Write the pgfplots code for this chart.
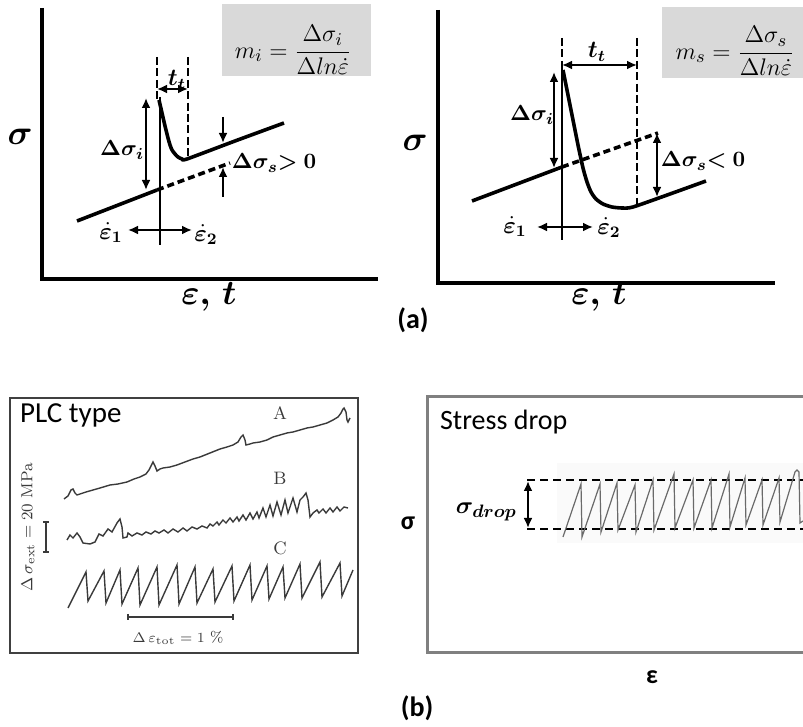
\documentclass[border=0pt]{standalone}
\usepackage{pgfplots}
\pgfplotsset{compat=1.18}
\usepackage{amsmath}
\usepackage{fontspec}
\usepackage{bm}
\usetikzlibrary{arrows.meta}
\newfontfamily\calibri{Carlito}
\definecolor{boxgray}{HTML}{D9D9D9}
\definecolor{scan}{HTML}{3A3A3A}
\definecolor{scan2}{HTML}{6A6A6A}
\pgfplotsset{panel/.style={x=0.5pt,y=0.5pt,y dir=reverse,hide axis,clip=false,anchor=south west}}
\tikzset{
  arr/.style={{Latex[length=5pt,width=4.5pt]}-{Latex[length=5pt,width=4.5pt]}, line width=1.1pt},
  sarr/.style={-{Latex[length=5pt,width=4.5pt]}, line width=1.1pt},
  thick line/.style={line width=1.8pt},
  dline/.style={line width=1.8pt, dash pattern=on 3.5pt off 2pt},
  dvert/.style={line width=1pt, dash pattern=on 4pt off 1.7pt},
  big/.style={font=\fontsize{17}{19}\selectfont},
  mid/.style={font=\fontsize{11}{13}\selectfont},
  sm/.style={font=\fontsize{12}{14}\selectfont},
}
\begin{document}
\begin{tikzpicture}
\useasboundingbox (0,0) rectangle (401.5pt,363.5pt);
% ---------------- top-left ----------------
\begin{axis}[panel, xmin=0, xmax=400, ymin=0, ymax=360, at={(0pt,183.5pt)}]
\fill[boxgray] (222,4) rectangle (371,76);
\node[font=\fontsize{12.5}{14}\selectfont] at (293,50) {$m_i=\dfrac{\Delta\sigma_i}{\Delta ln\dot{\varepsilon}}$};
\addplot[black, line width=2pt, line join=miter] coordinates {(42,8) (42,279) (378,279)};
\addplot[thick line] coordinates {(77,221) (157,190)};
\addplot[dline] coordinates {(157,190) (230,163)};
\addplot[thick line, smooth, tension=0.4] coordinates {(159,100) (162,113) (165,126) (168,138) (170,145) (172,150) (175,154) (178,157) (182,159) (187,159) (235,141) (284,123)};
\addplot[line width=1pt] coordinates {(160,97) (160,245)};
\addplot[dvert] coordinates {(157,57) (157,100)};
\addplot[dvert] coordinates {(188,57) (188,159)};
\addplot[arr] coordinates {(157,89) (188,89)};
\addplot[arr] coordinates {(146,98) (146,190)};
\addplot[sarr] coordinates {(223,117) (223,143)};
\addplot[sarr] coordinates {(223,197) (223,167)};
\addplot[arr] coordinates {(128,230) (192,230)};
\node[sm] at (177,80) {$\bm{t_t}$};
\node[mid] at (122,150) {$\bm{\Delta\sigma_i}$};
\node[mid] at (274,163) {$\bm{\Delta\sigma_s{>}\;0}$};
\node[sm] at (111,233) {$\bm{\dot{\varepsilon}_1}$};
\node[sm] at (206,235) {$\bm{\dot{\varepsilon}_2}$};
\node[big] at (20,137) {$\bm{\sigma}$};
\node[big] at (209,297) {$\bm{\varepsilon,}\,\bm{t}$};
\end{axis}
% ---------------- top-right ----------------
\begin{axis}[panel, xmin=400, xmax=803, ymin=0, ymax=360, at={(200pt,183.5pt)}]
\fill[boxgray] (662,7) rectangle (803,78);
\node[font=\fontsize{12.5}{14}\selectfont] at (735,51) {$m_s=\dfrac{\Delta\sigma_s}{\Delta ln\dot{\varepsilon}}$};
\addplot[black, line width=2pt, line join=miter] coordinates {(438,10) (438,283) (775,283)};
\addplot[thick line] coordinates {(472,201) (562,167)};
\addplot[dline] coordinates {(562,167) (658,133)};
\addplot[thick line, smooth, tension=0.4] coordinates {(563,70) (568,95) (573,120) (578,145) (583,168) (587,182) (591,192) (596,199) (603,204) (612,207) (622,208) (633,207) (670,194) (706,181)};
\addplot[line width=1pt] coordinates {(562,67) (562,240)};
\addplot[dvert] coordinates {(562,38) (562,70)};
\addplot[dvert] coordinates {(637,38) (637,207)};
\addplot[arr] coordinates {(562,65) (637,65)};
\addplot[arr] coordinates {(554,72) (554,168)};
\addplot[arr] coordinates {(657,133) (657,197)};
\addplot[arr] coordinates {(537,227) (593,227)};
\node[sm] at (597,52) {$\bm{t_t}$};
\node[mid] at (532,115) {$\bm{\Delta\sigma_i}$};
\node[mid] at (703,161) {$\bm{\Delta\sigma_s{<}\;0}$};
\node[sm] at (515,227) {$\bm{\dot{\varepsilon}_1}$};
\node[sm] at (609,228) {$\bm{\dot{\varepsilon}_2}$};
\node[big] at (415,143) {$\bm{\sigma}$};
\node[big] at (599,297) {$\bm{\varepsilon,}\,\bm{t}$};
\node[font=\calibri\bfseries\fontsize{14}{16}\selectfont] at (413,320) {(a)};
\end{axis}
% ---------------- bottom-left ----------------
\begin{axis}[panel, xmin=0, xmax=400, ymin=360, ymax=727, at={(0pt,0pt)}]
\draw[black!75, line width=0.9pt] (10,398) rectangle (358,653);
\node[anchor=west, font=\calibri\fontsize{14.5}{16}\selectfont] at (13,415) {PLC type};
% curve A
\addplot[scan, line width=0.7pt] coordinates {(64,499) (68,496) (71,490) (73,489) (75,493) (77,495) (80,494) (86,492) (93,490) (100,488) (110,485) (118,484) (127,482) (134,479) (140,477) (146,474) (149,470) (152,464) (153,462) (155,466) (157,471) (160,469) (163,468) (170,467) (177,465) (185,462) (193,459) (200,457) (210,453) (220,449) (227,447) (233,445) (238,442) (241,437) (243,435) (245,440) (246,445) (250,444) (253,443) (260,442) (267,440) (273,437) (280,435) (287,433) (293,432) (300,430) (307,428) (313,427) (320,425) (327,423) (333,420) (338,417) (341,413) (343,409) (344,408) (346,412) (347,420) (348,422) (350,418)};
% curve B
\addplot[scan, line width=0.7pt] coordinates {(67,540) (70,535) (73,538) (77,533) (80,537) (83,543) (90,544) (95,542) (99,534) (103,536) (108,529) (112,532) (117,523) (120,519) (122,527) (123,538) (127,537) (128,533) (132,536) (137,533) (142,535) (146,532) (151,534) (155,531) (159,533) (164,530) (168,533) (173,529) (178,532) (183,528) (187,531) (192,527) (197,529) (202,526) (207,528) (210,524) (213,526) (217,522) (219,525) (223,520) (226,523) (230,518) (233,522) (237,517) (239,521) (243,515) (246,520) (250,513) (253,519) (257,512) (259,518) (263,508) (266,517) (270,505) (273,516) (277,502) (281,515) (285,500) (288,513) (293,498) (297,512) (300,500) (303,497) (306,493) (308,500) (310,517) (313,513) (317,510) (319,513) (323,509) (326,513) (330,508) (333,512) (337,507) (340,511) (344,507) (348,508)};
% curve C
\addplot[scan, line width=0.7pt] coordinates {(68,608) (86,572) (88,601) (104,571) (106,603) (120,570) (122,604) (138,568) (140,605) (157,567) (159,605) (177,565) (179,604) (195,567) (197,603) (213,569) (215,602) (232,566) (234,601) (250,565) (252,600) (267,566) (269,599) (283,567) (285,598) (300,564) (302,598) (320,562) (322,597) (340,563) (342,596) (353,570)};
\node[font=\fontsize{9}{10}\selectfont, text=scan] at (280,413) {A};
\node[font=\fontsize{9}{10}\selectfont, text=scan] at (280,478) {B};
\node[font=\fontsize{9}{10}\selectfont, text=scan] at (280,548) {C};
% scale bars
\addplot[scan, line width=0.6pt] coordinates {(46,522) (46,552)};
\addplot[scan, line width=0.6pt] coordinates {(43,522) (49,522)};
\addplot[scan, line width=0.6pt] coordinates {(43,552) (49,552)};
\addplot[scan, line width=0.6pt] coordinates {(128,617) (233,617)};
\addplot[scan, line width=0.6pt] coordinates {(128,614) (128,620)};
\addplot[scan, line width=0.6pt] coordinates {(233,614) (233,620)};
\node[rotate=90, font=\fontsize{8}{9}\selectfont, text=scan] at (28,527) {$\Delta\,\sigma_{\mathrm{ext}} = 20$ MPa};
\node[font=\fontsize{7.5}{9}\selectfont, text=scan] at (178,638) {$\Delta\,\varepsilon_{\mathrm{tot}} = 1$ \%};
\end{axis}
% ---------------- bottom-right ----------------
\begin{axis}[panel, xmin=400, xmax=803, ymin=360, ymax=727, at={(200pt,0pt)}]
\fill[black!2] (557,463) rectangle (803,543);
\draw[black!50, line width=1.5pt] (803,397) -- (427,397) -- (427,652) -- (803,652);
\node[anchor=west, font=\calibri\fontsize{14}{16}\selectfont] at (433,422) {Stress drop};
\addplot[black, line width=0.8pt, dash pattern=on 4pt off 2.5pt] coordinates {(527,480) (803,480)};
\addplot[black, line width=0.8pt, dash pattern=on 4pt off 2.5pt] coordinates {(527,529) (803,529)};
\addplot[scan2, line width=0.6pt] coordinates {(563,537) (581,484) (582,537) (600,484) (601,532) (617,483) (618,530) (635,485) (636,532) (653,480) (654,530) (674,474) (675,528) (693,480) (694,528) (711,480) (712,528) (729,474) (730,527) (745,478) (746,525) (762,480) (763,525) (779,478) (780,522) (795,472) (797,470) (799,472) (800,523) (803,521)};
\addplot[arr, line width=1.2pt] coordinates {(528,481) (528,528)};
\node[anchor=east, font=\fontsize{13}{15}\selectfont] at (524,512) {$\bm{\sigma_{drop}}$};
\node[font=\calibri\bfseries\fontsize{13}{15}\selectfont] at (408,523) {σ};
\node[font=\calibri\bfseries\fontsize{13}{15}\selectfont] at (652,677) {ε};
\node[font=\calibri\bfseries\fontsize{14}{16}\selectfont] at (417,708) {(b)};
\end{axis}
\end{tikzpicture}
\end{document}
